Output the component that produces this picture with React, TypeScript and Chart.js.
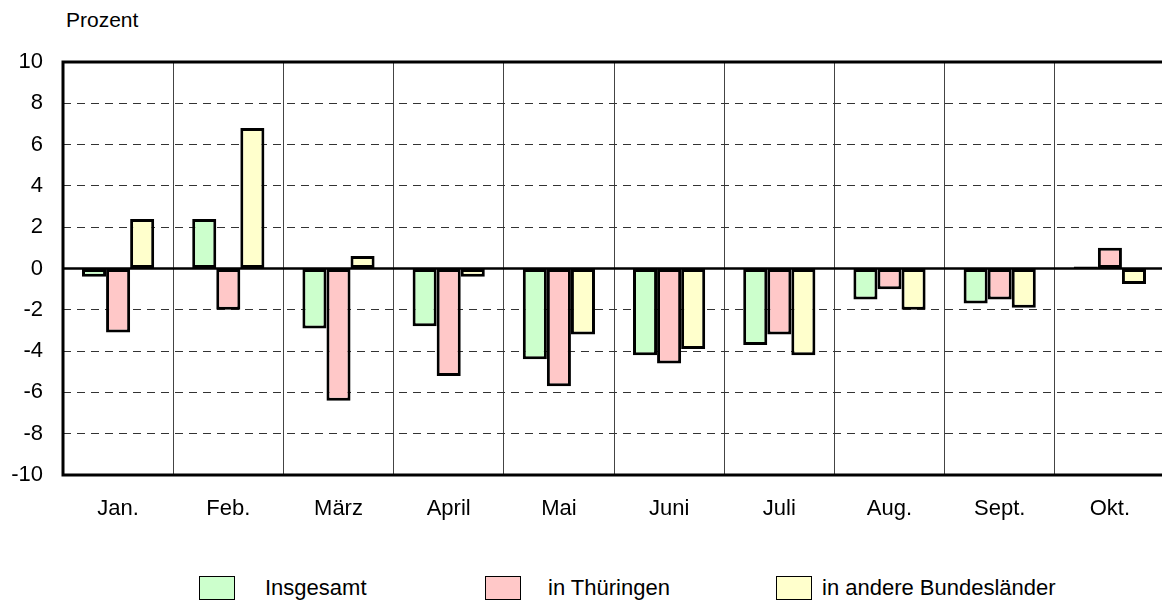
import React, { useEffect, useRef } from "react";
import { Chart, registerables } from "chart.js";

Chart.register(...registerables);

const months = ["Jan.", "Feb.", "März", "April", "Mai", "Juni", "Juli", "Aug.", "Sept.", "Okt."];
const insgesamt = [-0.4, 2.4, -2.9, -2.8, -4.4, -4.2, -3.7, -1.5, -1.7, 0.1];
const thueringen = [-3.1, -2.0, -6.4, -5.2, -5.7, -4.6, -3.2, -1.0, -1.5, 1.0];
const andere = [2.4, 6.8, 0.6, -0.4, -3.2, -3.9, -4.2, -2.0, -1.9, -0.75];
const seriesNames = ["Insgesamt", "in Thüringen", "in andere Bundesländer"];
const seriesColors = ["#ccffcc", "#ffc8c8", "#ffffcc"];
const yMin = -10;
const yMax = 10;
const yStep = 2;

const FONT = "'Liberation Sans', Arial, Helvetica, sans-serif";

const framePlugin = {
  id: "framePlugin",
  afterDatasetsDraw(chart: any) {
    const { ctx, chartArea, scales } = chart;
    const y0 = scales.y.getPixelForValue(0);
    ctx.save();
    ctx.strokeStyle = "#000";
    ctx.lineWidth = 2.5;
    ctx.beginPath();
    ctx.moveTo(chartArea.left, y0);
    ctx.lineTo(chartArea.right, y0);
    ctx.stroke();
    ctx.lineWidth = 3;
    ctx.beginPath();
    ctx.moveTo(chartArea.right + 2, chartArea.top);
    ctx.lineTo(chartArea.left, chartArea.top);
    ctx.lineTo(chartArea.left, chartArea.bottom);
    ctx.lineTo(chartArea.right + 2, chartArea.bottom);
    ctx.stroke();
    ctx.restore();
  },
};

export default function App() {
  const ref = useRef<HTMLCanvasElement>(null);

  useEffect(() => {
    if (!ref.current) return;
    const data = [insgesamt, thueringen, andere];
    const chart = new Chart(ref.current, {
      type: "bar",
      data: {
        labels: months,
        datasets: data.map((d, i) => ({
          label: seriesNames[i],
          data: d,
          backgroundColor: seriesColors[i],
          borderColor: "#000",
          borderWidth: 3,
          borderSkipped: false,
          categoryPercentage: 0.655,
          barPercentage: 1.0,
        })),
      },
      options: {
        responsive: false,
        animation: false,
        devicePixelRatio: 1,
        layout: { padding: { top: 62, left: 0, right: 0, bottom: 0 } },
        plugins: {
          legend: { display: false },
          tooltip: { enabled: false },
        },
        scales: {
          x: {
            grid: {
              display: true,
              offset: true,
              color: "#444",
              lineWidth: 1,
              drawTicks: false,
            },
            border: { display: false },
            ticks: {
              color: "#000",
              font: { family: FONT, size: 22 },
              padding: 21,
            },
            afterFit: (scale: any) => {
              scale.height = 560 - 475;
            },
          },
          y: {
            min: yMin,
            max: yMax,
            grid: {
              color: (c: any) =>
                c.tick && (c.tick.value === 0 || Math.abs(c.tick.value) === 10)
                  ? "rgba(0,0,0,0)"
                  : "#333",
              lineWidth: 1,
              drawTicks: false,
            },
            border: { display: false, dash: [8, 6] },
            ticks: {
              stepSize: yStep,
              color: "#000",
              font: { family: FONT, size: 22 },
              padding: 20,
            },
            afterFit: (scale: any) => {
              scale.width = 63;
            },
          },
        },
      },
      plugins: [framePlugin],
    });
    return () => chart.destroy();
  }, []);

  const legendItems = [
    { box: 199, text: 265 },
    { box: 485, text: 548 },
    { box: 776, text: 822 },
  ];

  return (
    <div
      style={{
        position: "fixed",
        left: 0,
        top: 0,
        width: 1162,
        height: 612,
        overflow: "hidden",
        background: "#fff",
        fontFamily: FONT,
      }}
    >
      <div
        style={{
          position: "absolute",
          left: 66,
          top: 8,
          fontSize: 21,
          lineHeight: "24px",
          color: "#000",
        }}
      >
        Prozent
      </div>
      <canvas
        ref={ref}
        width={1165}
        height={560}
        style={{ position: "absolute", left: 0, top: 0, width: 1165, height: 560 }}
      />
      {legendItems.map((it, i) => (
        <React.Fragment key={i}>
          <div
            style={{
              position: "absolute",
              left: it.box,
              top: 576,
              width: 34,
              height: 22,
              background: seriesColors[i],
              border: "1px solid #000",
            }}
          />
          <div
            style={{
              position: "absolute",
              left: it.text,
              top: 576,
              height: 24,
              lineHeight: "24px",
              fontSize: 22,
              color: "#000",
              whiteSpace: "nowrap",
            }}
          >
            {seriesNames[i]}
          </div>
        </React.Fragment>
      ))}
    </div>
  );
}
